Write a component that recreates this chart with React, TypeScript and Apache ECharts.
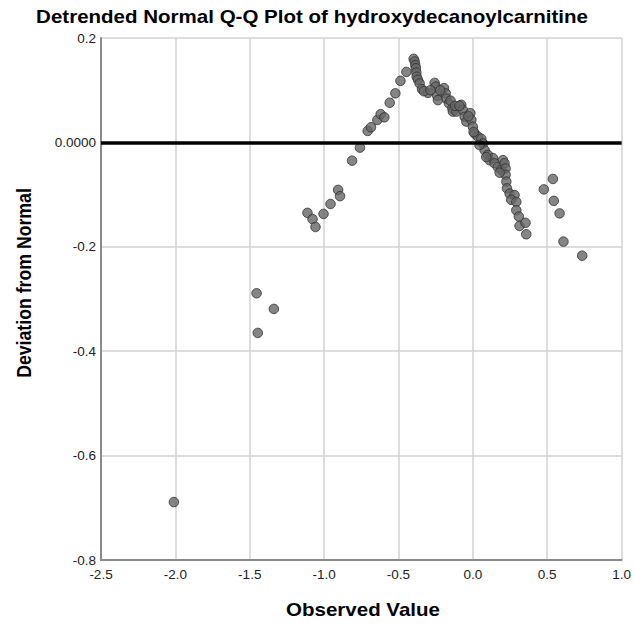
import React, { useEffect, useRef } from "react";
import * as echarts from "echarts";

const observedValues: number[] = [
  -2.010, -1.454, -1.446, -1.338, -1.112, -1.078, -1.058, -1.004, -0.957, -0.906,
  -0.893, -0.812, -0.759, -0.707, -0.685, -0.642, -0.620, -0.595, -0.559, -0.521,
  -0.487, -0.447, -0.398, -0.391, -0.387, -0.383, -0.380, -0.378, -0.369, -0.358,
  -0.342, -0.302, -0.257, -0.250, -0.239, -0.235, -0.194, -0.183, -0.178, -0.161,
  -0.138, -0.134, -0.111, -0.078, -0.067, -0.055, -0.044, -0.017, -0.010, 0.000,
  0.012, 0.034, 0.057, 0.068, 0.079, 0.101, 0.112, 0.135, 0.146, 0.168,
  0.191, 0.202, 0.213, 0.220, 0.220, 0.225, 0.229, 0.247, 0.280, 0.258,
  0.292, 0.292, 0.309, 0.314, 0.354, 0.359, 0.477, 0.538, 0.544, 0.583,
  0.609, 0.735, -0.330, -0.285, -0.220, -0.150, -0.120, -0.090, -0.030, 0.005,
  0.045, 0.090, 0.180,
];

const deviations: number[] = [
  -0.689, -0.289, -0.365, -0.319, -0.135, -0.147, -0.162, -0.137, -0.118, -0.091,
  -0.103, -0.035, -0.010, 0.022, 0.029, 0.043, 0.054, 0.048, 0.076, 0.094,
  0.118, 0.135, 0.160, 0.155, 0.148, 0.142, 0.134, 0.126, 0.120, 0.113,
  0.102, 0.095, 0.114, 0.107, 0.089, 0.081, 0.104, 0.094, 0.084, 0.075,
  0.065, 0.059, 0.059, 0.072, 0.062, 0.049, 0.040, 0.056, 0.043, 0.030,
  0.017, 0.011, 0.007, -0.002, -0.015, -0.024, -0.034, -0.030, -0.040, -0.047,
  -0.053, -0.034, -0.040, -0.050, -0.062, -0.075, -0.088, -0.098, -0.101, -0.110,
  -0.114, -0.130, -0.142, -0.160, -0.154, -0.176, -0.090, -0.070, -0.112, -0.136,
  -0.190, -0.217, 0.098, 0.100, 0.100, 0.080, 0.070, 0.070, 0.050, 0.020,
  -0.005, -0.028, -0.058,
];

const xTicks = { min: -2.5, max: 1.0, interval: 0.5 };
const yTicks = { min: -0.8, max: 0.2, interval: 0.2 };
const referenceLine: number[] = [0];

const titleText = "Detrended Normal Q-Q Plot of hydroxydecanoylcarnitine";
const xName = "Observed Value";
const yName = "Deviation from Normal";

export default function App() {
  const ref = useRef<HTMLDivElement>(null);
  useEffect(() => {
    if (!ref.current) return;
    const chart = echarts.init(ref.current, undefined, { renderer: "svg" });
    const points = observedValues.map((x, i) => [x, deviations[i]]);
    const font = "'Liberation Sans', Arial, sans-serif";
    const boldFont = `bold 17.7px ${font}`;
    chart.setOption({
      animation: false,
      backgroundColor: "#ffffff",
      grid: { left: 101, right: 12, top: 38, bottom: 65, containLabel: false },
      graphic: [
        {
          type: "text",
          x: 312,
          y: 17,
          scaleX: 1.16,
          style: {
            text: titleText,
            font: boldFont,
            fill: "#000",
            align: "center",
            verticalAlign: "middle",
            textAlign: "center",
            textVerticalAlign: "middle",
          },
        },
        {
          type: "text",
          x: 363,
          y: 610,
          scaleX: 1.16,
          style: {
            text: xName,
            font: boldFont,
            fill: "#000",
            align: "center",
            verticalAlign: "middle",
            textAlign: "center",
            textVerticalAlign: "middle",
          },
        },
        {
          type: "text",
          x: 24,
          y: 283,
          rotation: Math.PI / 2,
          scaleY: 1.16,
          style: {
            text: yName,
            font: boldFont,
            fill: "#000",
            align: "center",
            verticalAlign: "middle",
            textAlign: "center",
            textVerticalAlign: "middle",
          },
        },
      ],
      xAxis: {
        type: "value",
        min: xTicks.min,
        max: xTicks.max,
        interval: xTicks.interval,
        axisLine: { show: true, onZero: false, lineStyle: { color: "#8a8a8a", width: 2 } },
        axisTick: { show: false },
        axisLabel: {
          fontFamily: font,
          fontSize: 13.5,
          color: "#222",
          margin: 7,
          formatter: (v: number) => v.toFixed(1),
        },
        splitLine: { show: true, lineStyle: { color: "#d2d2d2", width: 1.5 } },
      },
      yAxis: {
        type: "value",
        min: yTicks.min,
        max: yTicks.max,
        interval: yTicks.interval,
        axisLine: { show: true, onZero: false, lineStyle: { color: "#8a8a8a", width: 2 } },
        axisTick: { show: false },
        axisLabel: {
          fontFamily: font,
          fontSize: 13.5,
          color: "#222",
          margin: 5,
          formatter: (v: number) => (Math.abs(v) < 1e-9 ? "0.0000" : v.toFixed(1)),
        },
        splitLine: { show: true, lineStyle: { color: "#d2d2d2", width: 1.5 } },
      },
      series: [
        {
          type: "scatter",
          data: points,
          symbol: "circle",
          symbolSize: 9.5,
          itemStyle: { color: "#676767", borderColor: "#2e2e2e", borderWidth: 1 },
          z: 3,
        },
        {
          type: "line",
          data: [],
          markLine: {
            silent: true,
            symbol: "none",
            label: { show: false },
            lineStyle: { color: "#000", width: 3.5, type: "solid" },
            data: referenceLine.map((y) => ({ yAxis: y })),
          },
          z: 4,
        },
      ],
    });
    return () => chart.dispose();
  }, []);
  return (
    <div
      ref={ref}
      style={{ position: "fixed", left: 0, top: 0, width: 634, height: 625 }}
    />
  );
}
